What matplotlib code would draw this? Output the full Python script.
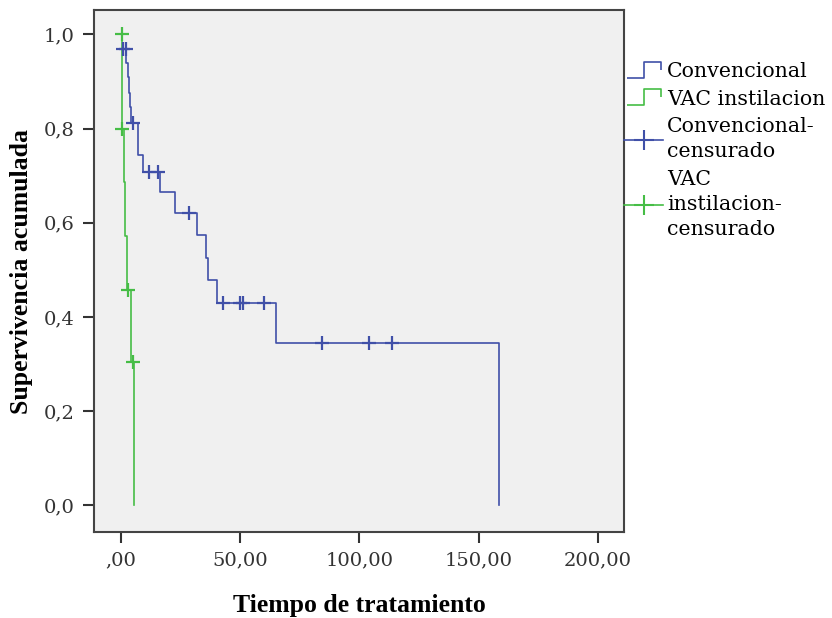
import matplotlib
matplotlib.use("Agg")
import matplotlib.pyplot as plt
from matplotlib.lines import Line2D
from matplotlib.path import Path

# curvas de supervivencia (Kaplan-Meier)
conv_t = [0, 2.2, 2.9, 3.4, 3.9, 4.3, 7.3, 9.4, 16.4, 22.6, 31.7, 35.6, 36.6, 40.4, 64.9, 158.6]
conv_s = [0.969, 0.94, 0.91, 0.875, 0.845, 0.812, 0.744, 0.708, 0.666, 0.621, 0.574, 0.526, 0.478, 0.430, 0.344, 0.0]
conv_cens_t = [0.8, 2.0, 5.0, 11.9, 15.6, 28.5, 42.6, 49.9, 51.3, 60.1, 84.1, 104.1, 113.5]
conv_cens_s = [0.969, 0.969, 0.812, 0.708, 0.708, 0.621, 0.430, 0.430, 0.430, 0.430, 0.344, 0.344, 0.344]

vac_t = [0, 0.4, 1.3, 1.9, 2.7, 4.4, 5.3]
vac_s = [1.0, 0.8, 0.686, 0.571, 0.457, 0.305, 0.0]
vac_cens_t = [0.3, 0.6, 3.1, 4.9]
vac_cens_s = [1.0, 0.8, 0.457, 0.305]

x_ticks = [0, 50, 100, 150, 200]
x_labels = [",00", "50,00", "100,00", "150,00", "200,00"]
y_ticks = [0, 0.2, 0.4, 0.6, 0.8, 1.0]
y_labels = ["0,0", "0,2", "0,4", "0,6", "0,8", "1,0"]

blue = "#4050a8"
green = "#46bd46"
serif = ["Liberation Serif", "DejaVu Serif"]
wide = ["DejaVu Serif"]

fig = plt.figure(figsize=(8.32, 6.18), dpi=100)
ax = fig.add_axes([94 / 832, 1 - 532 / 618, 530 / 832, 522 / 618])
ax.set_facecolor("#f0f0f0")

ax.step(conv_t, conv_s, where="post", color=blue, lw=1.2)
ax.step(vac_t, vac_s, where="post", color=green, lw=1.2)
ax.plot(conv_cens_t, conv_cens_s, ls="none", marker="+", ms=10, mew=1.6, color=blue)
ax.plot(vac_cens_t, vac_cens_s, ls="none", marker="+", ms=10, mew=1.6, color=green)

ax.set_xlim(-11.3, 210.9)
ax.set_ylim(-0.057, 1.052)
ax.set_xticks(x_ticks)
ax.set_xticklabels(x_labels)
ax.set_yticks(y_ticks)
ax.set_yticklabels(y_labels)
ax.tick_params(direction="out", length=8, width=1.5, color="#333333",
               labelsize=14, labelcolor="#333333", pad=6)
for lab in ax.get_xticklabels() + ax.get_yticklabels():
    lab.set_family(wide)
for s in ax.spines.values():
    s.set_linewidth(1.5)
    s.set_color("#444444")

ax.set_xlabel("Tiempo de tratamiento", family=serif, fontweight="bold", fontsize=18.5, labelpad=18)
ax.set_ylabel("Supervivencia acumulada", family=serif, fontweight="bold", fontsize=18.5, labelpad=8)

# iconos de la leyenda
step_icon = Path([(-1, -0.5), (0, -0.5), (0, 0.5), (1, 0.5), (1, 0.0)])
handles = [
    Line2D([], [], ls="none", marker=step_icon, ms=24, mfc="none", mec=blue, mew=1.2),
    Line2D([], [], ls="none", marker=step_icon, ms=24, mfc="none", mec=green, mew=1.2),
    Line2D([], [], color=blue, lw=1.2, marker="+", ms=14, mew=1.5),
    Line2D([], [], color=green, lw=1.2, marker="+", ms=14, mew=1.5),
]
labels = ["Convencional", "VAC instilacion", "Convencional-\ncensurado", "VAC\ninstilacion-\ncensurado"]
leg = fig.legend(handles, labels, loc="upper left", bbox_to_anchor=(624 / 832, 1 - 62 / 618),
                 frameon=False, prop={"family": wide, "size": 14.8}, handlelength=1.9,
                 handletextpad=0.2, labelspacing=0.42, borderaxespad=0, borderpad=0)
for t in leg.get_texts():
    t.set_linespacing(1.4)

fig.savefig("out.png", dpi=100)
